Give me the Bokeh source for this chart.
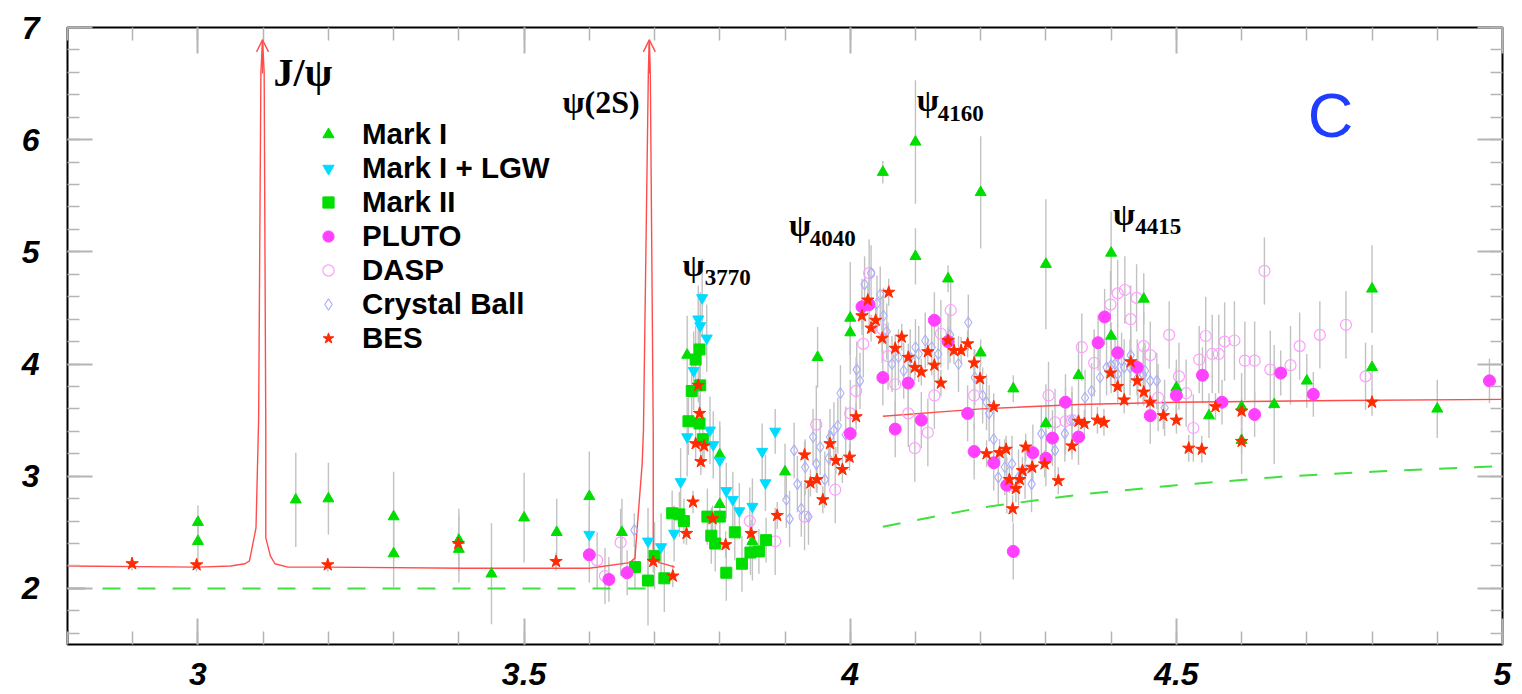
from bokeh.plotting import figure
from bokeh.models import (ColumnDataSource, Range1d, LinearAxis, SingleIntervalTicker,
                          Label, Arrow, OpenHead, Legend, LegendItem)
from bokeh.embed import file_html
from bokeh.resources import INLINE

# ---------------- data ----------------
mark1_x = [3.00, 3.00, 3.15, 3.20, 3.30, 3.30, 3.40, 3.40, 3.45, 3.50, 3.55, 3.60, 3.65,
           3.75, 3.80, 3.80, 3.85, 3.90, 3.95, 4.00, 4.00, 4.05, 4.10, 4.10, 4.15, 4.20,
           4.20, 4.25, 4.30, 4.30, 4.35, 4.40, 4.40, 4.45, 4.50, 4.55, 4.60, 4.60, 4.65,
           4.70, 4.80, 4.80, 4.90]
mark1_y = [2.59, 2.42, 2.79, 2.80, 2.64, 2.31, 2.43, 2.35, 2.13, 2.63, 2.50, 2.82, 2.50,
           4.08, 3.19, 2.75, 2.42, 3.04, 4.06, 4.41, 4.28, 5.71, 5.98, 4.96, 4.76, 5.53,
           4.10, 3.78, 4.89, 3.47, 3.90, 4.99, 4.25, 4.58, 3.79, 3.54, 3.62, 3.32, 3.64,
           3.85, 4.67, 3.97, 3.60]
mark1_e = [0.15, 0.20, 0.42, 0.32, 0.40, 0.30, 0.28, 0.30, 0.45, 0.40, 0.30, 0.40, 0.30,
           0.35, 0.30, 0.30, 0.35, 0.25, 0.27, 0.50, 0.20, 0.10, 0.55, 0.25, 0.12, 0.50,
           0.12, 0.12, 0.58, 0.35, 0.30, 0.37, 0.12, 0.23, 0.25, 0.20, 0.30, 0.30, 0.53,
           0.24, 0.39, 0.20, 0.26]

lgw_x = [3.60, 3.69, 3.71, 3.73, 3.74, 3.75, 3.76, 3.767, 3.77, 3.773, 3.78, 3.785, 3.79,
         3.80, 3.81, 3.82, 3.83, 3.85, 3.865, 3.87, 3.885]
lgw_y = [2.48, 2.42, 2.37, 2.49, 2.95, 3.35, 3.94, 4.40, 4.34, 4.59, 4.23, 3.41, 3.28,
         3.14, 2.87, 2.79, 2.69, 2.73, 3.22, 2.94, 3.40]
lgw_e = [0.25, 0.30, 0.30, 0.25, 0.30, 0.35, 0.35, 0.30, 0.30, 0.35, 0.30, 0.30, 0.30,
         0.30, 0.25, 0.25, 0.25, 0.25, 0.25, 0.25, 0.20]

mark2_x = [3.67, 3.69, 3.70, 3.715, 3.727, 3.738, 3.745, 3.752, 3.757, 3.763, 3.769, 3.77,
           3.769, 3.774, 3.781, 3.80, 3.787, 3.793, 3.81, 3.823, 3.834, 3.847, 3.86, 3.871]
mark2_y = [2.19, 2.07, 2.29, 2.09, 2.67, 2.66, 2.60, 3.49, 3.76, 4.04, 4.13, 3.81,
           3.47, 3.33, 2.64, 2.64, 2.47, 2.40, 2.14, 2.50, 2.22, 2.32, 2.33, 2.43]
mark2_e = [0.20, 0.40, 0.30, 0.30, 0.20, 0.20, 0.20, 0.30, 0.30, 0.30, 0.30, 0.25,
           0.25, 0.25, 0.25, 0.25, 0.25, 0.25, 0.25, 0.25, 0.25, 0.20, 0.20, 0.20]

pluto_x = [3.60, 3.63, 3.658, 4.00, 4.018, 4.029, 4.05, 4.069, 4.089, 4.109, 4.129, 4.15,
           4.18, 4.19, 4.22, 4.24, 4.25, 4.28, 4.30, 4.31, 4.33, 4.35, 4.38, 4.39, 4.41,
           4.44, 4.46, 4.50, 4.54, 4.57, 4.62, 4.66, 4.71, 4.98]
pluto_y = [2.30, 2.08, 2.14, 3.38, 4.51, 4.53, 3.88, 3.42, 3.83, 3.50, 4.39, 4.20,
           3.56, 3.22, 3.12, 2.92, 2.33, 3.21, 3.16, 3.34, 3.66, 3.35, 4.19, 4.42, 4.10,
           3.97, 3.54, 3.72, 3.90, 3.66, 3.55, 3.92, 3.73, 3.85]
pluto_e = [0.25, 0.20, 0.20, 0.25, 0.25, 0.25, 0.25, 0.25, 0.25, 0.25, 0.25, 0.25,
           0.25, 0.25, 0.25, 0.25, 0.25, 0.25, 0.25, 0.25, 0.25, 0.25, 0.25, 0.25, 0.25,
           0.25, 0.25, 0.25, 0.25, 0.20, 0.20, 0.20, 0.20, 0.20]

dasp_x = [3.612, 3.624, 3.648, 3.846, 3.885, 3.93, 3.948, 3.977, 4.00, 4.009, 4.02, 4.029,
          4.049, 4.058, 4.069, 4.089, 4.099, 4.119, 4.129, 4.139, 4.154, 4.19, 4.304,
          4.314, 4.33, 4.34, 4.355, 4.374, 4.399, 4.41, 4.421, 4.43, 4.439, 4.45, 4.46,
          4.472, 4.489, 4.504, 4.515, 4.526, 4.535, 4.545, 4.555, 4.565, 4.574, 4.589,
          4.605, 4.62, 4.635, 4.644, 4.675, 4.689, 4.72, 4.76, 4.79]
dasp_y = [2.25, 2.11, 2.41, 2.60, 2.42, 2.64, 3.46, 2.88, 3.56, 3.76, 4.18, 4.81,
          4.31, 4.07, 3.82, 3.56, 3.25, 3.39, 3.72, 4.27, 4.48, 3.72, 3.72,
          3.48, 3.49, 3.50, 4.15, 4.01, 4.53, 4.63, 4.66, 4.40, 4.59, 4.16, 4.08,
          3.70, 4.26, 3.89, 3.74, 3.43, 4.04, 4.25, 4.09, 4.09, 4.20, 4.21,
          4.03, 4.03, 4.83, 3.95, 3.99, 4.16, 4.26, 4.35, 3.89]
dasp_e = [0.25, 0.25, 0.30, 0.30, 0.30, 0.30, 0.35, 0.30, 0.30, 0.30, 0.30, 0.30,
          0.30, 0.30, 0.30, 0.30, 0.30, 0.30, 0.30, 0.30, 0.30, 0.30, 0.30,
          0.30, 0.30, 0.30, 0.30, 0.30, 0.30, 0.30, 0.30, 0.30, 0.30, 0.30, 0.30,
          0.30, 0.30, 0.30, 0.30, 0.30, 0.30, 0.35, 0.35, 0.35, 0.35, 0.35,
          0.35, 0.35, 0.30, 0.35, 0.35, 0.30, 0.30, 0.30, 0.30]

cb_x = [3.669, 3.902, 3.907, 3.914, 3.919, 3.925, 3.931, 3.936, 3.943, 3.948, 3.954, 3.961,
        3.967, 3.969, 3.975, 3.981, 3.985, 3.993, 4.01, 4.015, 4.022, 4.032, 4.041, 4.046,
        4.051, 4.056, 4.064, 4.074, 4.082, 4.092, 4.10, 4.105, 4.115, 4.125, 4.135, 4.153,
        4.166, 4.181, 4.191, 4.203, 4.209, 4.213, 4.22, 4.227, 4.237, 4.248, 4.258, 4.268,
        4.278, 4.293, 4.314, 4.329, 4.34, 4.36, 4.37, 4.383, 4.393, 4.40, 4.406, 4.41,
        4.416, 4.42, 4.429, 4.43, 4.441, 4.449, 4.452, 4.46, 4.47, 4.482]
cb_y = [2.52, 2.79, 2.62, 3.23, 2.93, 2.71, 3.08, 2.64, 3.35, 3.11, 3.26, 2.97,
        3.16, 3.35, 3.41, 3.45, 3.74, 3.37, 3.95, 3.85, 4.71, 4.81, 4.54, 4.62,
        4.43, 4.29, 4.00, 4.06, 3.94, 4.06, 4.15, 4.09, 4.21, 4.15, 4.09, 4.26,
        4.00, 4.37, 3.88, 3.72, 3.66, 3.56, 3.33, 2.99, 3.08, 3.11, 2.99, 3.05,
        2.93, 3.38, 3.23, 3.38, 3.50, 3.70, 3.76, 3.88, 3.97, 3.99, 4.00, 3.91,
        4.03, 3.97, 3.97, 4.08, 3.88, 3.90, 3.94, 3.85, 3.85, 3.61]
cb_e = [0.15] + [0.25] * 69

bes_x = [2.899, 2.998, 3.199, 3.399, 3.549, 3.698, 3.728, 3.749, 3.759, 3.763, 3.767, 3.769,
         3.771, 3.776, 3.789, 3.809, 3.848, 3.888, 3.93, 3.939, 3.949, 3.958, 3.969, 3.978,
         3.988, 3.999, 4.009, 4.018, 4.027, 4.032, 4.039, 4.049, 4.059, 4.069, 4.079, 4.089,
         4.099, 4.109, 4.119, 4.129, 4.139, 4.15, 4.159, 4.17, 4.18, 4.19, 4.199, 4.209,
         4.22, 4.229, 4.239, 4.244, 4.249, 4.254, 4.26, 4.264, 4.269, 4.279, 4.298, 4.319,
         4.34, 4.35, 4.359, 4.379, 4.389, 4.399, 4.41, 4.42, 4.43, 4.44, 4.45, 4.46, 4.48,
         4.50, 4.519, 4.539, 4.56, 4.60, 4.60, 4.80]
bes_y = [2.22, 2.21, 2.21, 2.40, 2.24, 2.24, 2.11, 2.49, 2.77, 3.29, 3.81, 3.56,
         3.13, 3.27, 2.62, 2.39, 2.49, 2.65, 3.19, 2.94, 2.97, 2.79, 3.29, 3.14,
         3.06, 3.17, 3.53, 4.43, 4.57, 4.32, 4.39, 4.23, 4.64, 4.14, 4.24, 4.06,
         3.97, 3.93, 4.11, 3.99, 3.83, 4.21, 4.12, 4.12, 4.18, 4.01, 3.87, 3.20,
         3.62, 3.21, 3.24, 2.97, 2.71, 2.89, 2.97, 3.05, 3.26, 3.08, 3.11, 2.96,
         3.27, 3.49, 3.47, 3.50, 3.48, 3.92, 3.80, 3.68, 4.02, 3.85, 3.75, 3.66, 3.54,
         3.50, 3.25, 3.24, 3.62, 3.58, 3.31, 3.66]
bes_e = [0.06, 0.06, 0.06, 0.10, 0.08, 0.10, 0.10, 0.10, 0.10, 0.15, 0.15, 0.15] + [0.12] * 68

# theory curves
fit_low_x = [2.80, 3.00, 3.05, 3.072, 3.079, 3.089, 3.093, 3.0965, 3.099, 3.1015, 3.104,
             3.104, 3.111, 3.118, 3.138, 3.20, 3.41, 3.60, 3.662, 3.670, 3.673, 3.681,
             3.683, 3.6905, 3.692, 3.6935, 3.698, 3.698, 3.707, 3.72, 3.731]
fit_low_y = [2.20, 2.19, 2.20, 2.22, 2.245, 2.54, 3.50, 6.60, 6.89, 6.60, 3.41,
             2.45, 2.29, 2.22, 2.19, 2.19, 2.18, 2.18, 2.23, 2.27, 2.51, 3.11,
             3.41, 6.60, 6.89, 6.60, 3.41, 2.27, 2.23, 2.21, 2.19]
fit_high_x = [4.05, 4.20, 4.35, 4.50, 4.75, 5.00]
fit_high_y = [3.535, 3.60, 3.64, 3.66, 3.675, 3.685]

qcd_low_x = [2.80, 3.71]
qcd_low_y = [2.00, 2.00]
qcd_high_x = [4.05, 4.20, 4.35, 4.50, 4.66, 4.80, 5.00]
qcd_high_y = [2.55, 2.72, 2.835, 2.92, 2.995, 3.04, 3.09]

peaks_x = [3.099, 3.692]
peaks_y = [6.89, 6.89]

x_tick_labels = {3: "3", 3.5: "3.5", 4: "4", 4.5: "4.5", 5: "5"}

# ---------------- figure ----------------
p = figure(width=1518, height=694, x_range=Range1d(2.8, 5.0), y_range=Range1d(1.5, 7.0),
           output_backend="svg", toolbar_location=None,
           x_axis_location=None, y_axis_location=None,
           min_border_left=67, min_border_right=16, min_border_top=27, min_border_bottom=50)
p.grid.visible = False
p.outline_line_color = "black"
p.outline_line_width = 2
p.background_fill_color = "white"

TICK = "#b5b5b5"

def make_axis(kind, labels):
    if kind == "x":
        ticker = SingleIntervalTicker(interval=0.5, num_minor_ticks=5)
        ax = LinearAxis(ticker=ticker, major_tick_in=26, minor_tick_in=13)
    else:
        ticker = SingleIntervalTicker(interval=1, num_minor_ticks=5)
        ax = LinearAxis(ticker=ticker, major_tick_in=25, minor_tick_in=12)
    ax.major_tick_out = 0
    ax.minor_tick_out = 0
    ax.axis_line_color = None
    ax.major_tick_line_color = TICK
    ax.minor_tick_line_color = TICK
    ax.major_tick_line_width = 2
    ax.minor_tick_line_width = 1.5
    if labels:
        ax.major_label_text_font = "Liberation Sans"
        ax.major_label_text_font_style = "bold italic"
        ax.major_label_text_color = "black"
    else:
        ax.major_label_text_font_size = "0px"
        ax.major_label_standoff = 0
        ax.major_label_text_color = None
    return ax

xb = make_axis("x", True)
xb.major_label_text_font_size = "32px"
xb.major_label_text_line_height = 0.85
xb.major_label_standoff = 18
xb.major_label_overrides = x_tick_labels
p.add_layout(xb, "below")
p.add_layout(make_axis("x", False), "above")
yl = make_axis("y", True)
yl.major_label_text_font_size = "32px"
yl.major_label_standoff = 28
p.add_layout(yl, "left")
p.add_layout(make_axis("y", False), "right")

# ---------------- error bars ----------------
ERR = "#c2c2c2"
for xs, ys, es in [(mark1_x, mark1_y, mark1_e), (lgw_x, lgw_y, lgw_e), (mark2_x, mark2_y, mark2_e),
                   (pluto_x, pluto_y, pluto_e), (dasp_x, dasp_y, dasp_e), (cb_x, cb_y, cb_e),
                   (bes_x, bes_y, bes_e)]:
    src = ColumnDataSource(dict(x=xs, lo=[y - e for y, e in zip(ys, es)],
                                hi=[y + e for y, e in zip(ys, es)]))
    p.segment(x0="x", y0="lo", x1="x", y1="hi", source=src, line_color=ERR, line_width=1.4)

# ---------------- curves ----------------
RED = "#ff4d4d"
GREEN_D = "#3fe03f"
p.line(fit_low_x, fit_low_y, line_color=RED, line_width=1.4)
p.line(fit_high_x, fit_high_y, line_color=RED, line_width=1.4)
p.line(qcd_low_x, qcd_low_y, line_color=GREEN_D, line_width=2, line_dash="18 17")
p.line(qcd_high_x, qcd_high_y, line_color=GREEN_D, line_width=2, line_dash="18 17")
for px_, py_ in zip(peaks_x, peaks_y):
    p.add_layout(Arrow(end=OpenHead(size=12, line_color=RED, line_width=1.4),
                       x_start=px_, y_start=py_ - 0.3, x_end=px_, y_end=py_,
                       line_color=RED, line_width=1.4))

# ---------------- markers ----------------
r_dasp = p.scatter(dasp_x, dasp_y, marker="circle", size=11, fill_color=None,
                   line_color="#ff9cff", line_width=1.2)
r_cb = p.scatter(cb_x, cb_y, marker="diamond", size=11, fill_color=None,
                 line_color="#a9aeff", line_width=1.1)
r_m2 = p.scatter(mark2_x, mark2_y, marker="square", size=11, fill_color="#00dd00",
                 line_color="#00dd00")
r_m1 = p.scatter(mark1_x, mark1_y, marker="triangle", size=11, fill_color="#00dd00",
                 line_color="#00dd00")
r_lgw = p.scatter(lgw_x, lgw_y, marker="inverted_triangle", size=11, fill_color="#00dcff",
                  line_color="#00dcff")
r_pl = p.scatter(pluto_x, pluto_y, marker="circle", size=12, fill_color="#ff40ff",
                 line_color="#ff40ff")
r_bes = p.scatter(bes_x, bes_y, marker="star", size=13, fill_color="#ff2a00",
                  line_color="#ff2a00")

legend = Legend(items=[LegendItem(label="Mark I", renderers=[r_m1]),
                       LegendItem(label="Mark I + LGW", renderers=[r_lgw]),
                       LegendItem(label="Mark II", renderers=[r_m2]),
                       LegendItem(label="PLUTO", renderers=[r_pl]),
                       LegendItem(label="DASP", renderers=[r_dasp]),
                       LegendItem(label="Crystal Ball", renderers=[r_cb]),
                       LegendItem(label="BES", renderers=[r_bes])],
                location=(247, 289), padding=0, margin=0, spacing=0,
                glyph_width=28, glyph_height=28, label_height=28, label_standoff=20,
                label_text_font="Liberation Sans", label_text_font_style="bold",
                label_text_font_size="29.5px", label_text_color="black",
                label_text_line_height=0.9,
                border_line_color=None, background_fill_alpha=0)
p.add_layout(legend)

# ---------------- annotations ----------------
SERIF = "Liberation Serif"
def lab(x, y, text, size, font=SERIF, style="bold", color="black"):
    p.add_layout(Label(x=x, y=y, text=text, text_font=font, text_font_style=style,
                       text_font_size=size, text_color=color, text_baseline="alphabetic"))

lab(3.116, 6.60, "J/\u03c8", "40px")
lab(3.559, 6.34, "\u03c8(2S)", "32px")
lab(3.743, 4.885, "\u03c8", "32px")
lab(3.777, 4.77, "3770", "23px")
lab(3.906, 5.24, "\u03c8", "32px")
lab(3.938, 5.117, "4040", "23px")
lab(4.102, 6.355, "\u03c8", "32px")
lab(4.134, 6.235, "4160", "23px")
lab(4.403, 5.34, "\u03c8", "32px")
lab(4.437, 5.223, "4415", "23px")
lab(4.7015, 6.217, "C", "63px", font="Liberation Sans", style="normal", color="#1f3cff")

open("out.html", "w").write(file_html(p, INLINE))
